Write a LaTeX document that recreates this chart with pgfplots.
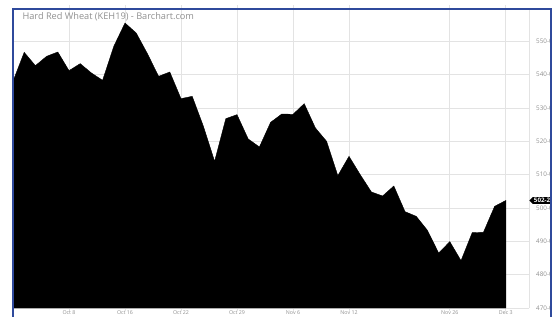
\documentclass[border=0pt]{standalone}
\usepackage{pgfplots}
\pgfplotsset{compat=1.18}
\usepackage{fontspec}
\setmainfont{Open Sans}
\usetikzlibrary{shapes.symbols}
\definecolor{gridgray}{HTML}{E3E3E3}
\definecolor{txtgray}{HTML}{909090}
\definecolor{frameblue}{HTML}{2F4A9C}
\begin{document}
\begin{tikzpicture}[x=1pt,y=1pt]
\begin{axis}[
  at={(13pt,8pt)}, anchor=south west,
  scale only axis, width=516pt, height=300pt,
  xmin=0, xmax=46.07, ymin=470, ymax=560,
  clip=false,
  axis line style={draw=none},
  xtick={5,10,15,20,25,30,39,44},
  xticklabels={Oct 8,Oct 16,Oct 22,Oct 29,Nov 6,Nov 12,Nov 26,Dec 3},
  ytick={470,480,...,550},
  yticklabels={470-0,480-0,490-0,500-0,510-0,520-0,530-0,540-0,550-0},
  yticklabel pos=right,
  grid=major, grid style={gridgray, line width=0.8pt},
  tick align=outside, major tick length=3pt,
  xtick style={gridgray, line width=0.8pt},
  ytick style={draw=none},
  xticklabel style={font=\fontsize{5.3}{6}\selectfont, text=txtgray, anchor=north, inner sep=0pt, yshift=0.3pt},
  yticklabel style={font=\fontsize{6.3}{7}\selectfont, text=txtgray, anchor=west, inner sep=0pt, xshift=4pt},
]
\addplot[fill=black, draw=black, line width=0.4pt] coordinates {
(0,538) (1,546.7) (2,542.7) (3,545.5) (4,546.8) (5,541.2) (6,543.3) (7,540.5) (8,538.3) (9,548.5)
(10,555.5) (11,552.5) (12,546.3) (13,539.5) (14,540.8) (15,532.8) (16,533.5) (17,524.5) (18,514) (19,526.8)
(20,528) (21,520.7) (22,518.3) (23,525.7) (24,528.2) (25,528.1) (26,531.3) (27,524) (28,520) (29,509.7)
(30,515.5) (31,510) (32,504.8) (33,503.6) (34,506.6) (35,498.9) (36,497.5) (37,493.3) (38,486.5) (39,489.9)
(40,484.2) (41,492.6) (42,492.7) (43,500.5) (44,502.25)
} \closedcycle;
\draw[gridgray, line width=0.8pt] (rel axis cs:1,0) -- (rel axis cs:1,1);
\node[signal, signal to=west, fill=black, text=white, font=\fontsize{6.2}{7}\selectfont\bfseries, inner sep=1.2pt, anchor=west] at (axis cs:46.07,502.25) {502-2};
\end{axis}
\node[anchor=base west, font=\fontsize{9.2}{11}\selectfont, text=txtgray] at (19pt,296pt) {Hard Red Wheat (KEH19) - Barchart.com};
\fill[white] (552pt,-10pt) rectangle (575pt,330pt);
\draw[frameblue, line width=1.8pt] (13pt,-10pt) -- (13pt,307pt) -- (551pt,307pt) -- (551pt,-10pt);
\pgfresetboundingbox
\useasboundingbox (0,0) rectangle (559pt,316pt);
\end{tikzpicture}
\end{document}
